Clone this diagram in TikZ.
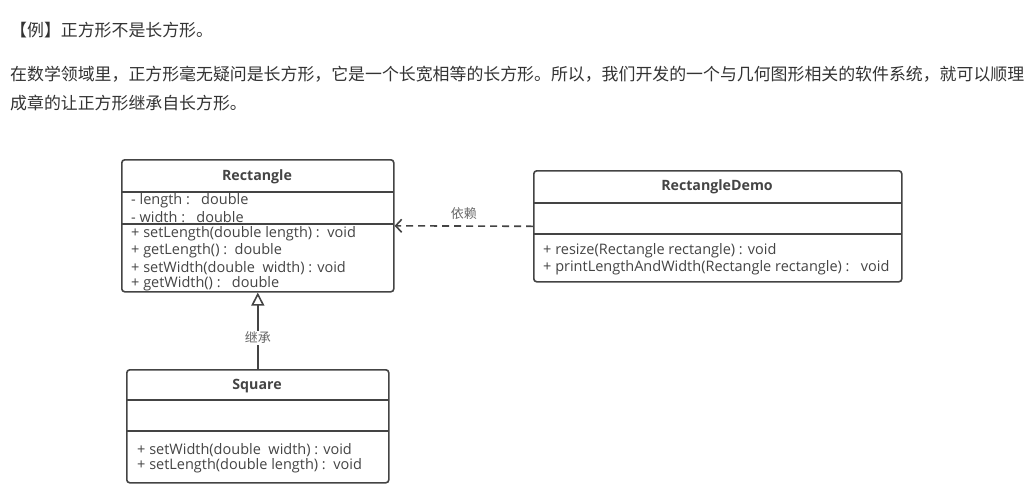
\documentclass[tikz,border=0pt]{standalone}
\usepackage{fontspec}
\setmainfont{Noto Sans CJK SC}
\newfontfamily\umlfont{Open Sans}
\usetikzlibrary{arrows.meta}
\definecolor{txt}{HTML}{333333}
\definecolor{uml}{HTML}{444444}
\definecolor{lbl}{HTML}{666666}
\tikzset{
  cls/.style={draw=uml, line width=1.6pt, rounded corners=3pt, anchor=north west, inner sep=0pt, fill=white},
  sep/.style={draw=uml, line width=1.6pt},
  ttl/.style={font=\umlfont\fontsize{14.2}{16}\selectfont\bfseries, text=uml, inner sep=0pt},
  mem/.style={font=\umlfont\fontsize{14.5}{16}\selectfont, text=uml, anchor=west, inner sep=0pt},
  para/.style={font=\fontsize{16.9}{20}\selectfont, text=txt, anchor=west, inner sep=0pt},
  lab/.style={font=\fontsize{13}{14}\selectfont, text=lbl, fill=white, inner sep=1pt},
}
\begin{document}
\begin{tikzpicture}[x=1pt,y=-1pt]
\useasboundingbox[fill=white] (0,0) rectangle (1024,496);
% heading text
\node[para] (h1) at (10,30) {【例】正方形不是长方形。};
\node[para] (p1) at (10,74) {在数学领域里，正方形毫无疑问是长方形，它是一个长宽相等的长方形。所以，我们开发的一个与几何图形相关的软件系统，就可以顺理};
\node[para] (p2) at (10,103) {成章的让正方形继承自长方形。};
% Rectangle class
\node[cls, minimum width=272pt, minimum height=132pt] (rect) at (121,159) {};
\draw[sep] (121,192) -- (393,192);
\draw[sep] (121,224) -- (393,224);
\node[ttl] (rectT) at (257,177) {Rectangle};
\node[mem] (ra1) at (131,201) {- length :\ \ \ double};
\node[mem] (ra2) at (131,217) {- width :\ \ \ double};
\node[mem] (rm1) at (131,234) {+ setLength(double length) :\ \ void};
\node[mem] (rm2) at (131,251) {+ getLength() :\ \ double};
\node[mem] (rm3) at (131,268) {+ setWidth(double\ \ width) : void};
\node[mem] (rm4) at (131,284) {+ getWidth() :\ \ \ double};
% RectangleDemo class
\node[cls, minimum width=368pt, minimum height=111pt] (demo) at (533,170) {};
\draw[sep] (533,203) -- (901,203);
\draw[sep] (533,234) -- (901,234);
\node[ttl] (demoT) at (717,187) {RectangleDemo};
\node[mem] (dm1) at (543,251) {+ resize(Rectangle rectangle) : void};
\node[mem] (dm2) at (543,268) {+ printLengthAndWidth(Rectangle rectangle) :\ \ \ void};
% Square class
\node[cls, minimum width=262pt, minimum height=113pt] (sq) at (126,369) {};
\draw[sep] (126,400) -- (388,400);
\draw[sep] (126,431) -- (388,431);
\node[ttl] (sqT) at (257,386) {Square};
\node[mem] (sm1) at (137,450) {+ setWidth(double\ \ width) : void};
\node[mem] (sm2) at (137,466) {+ setLength(double length) :\ \ void};
% connectors
\draw[draw=uml, line width=1.6pt, dash pattern=on 7pt off 5pt, -{Straight Barb[length=6pt,width=13pt,line width=1.6pt]}] (demo.west) -- (rect.east) node[midway, above=5pt, lab, fill=none] (depL) {依赖};
\draw[draw=uml, line width=1.6pt, -{Triangle[open, length=13pt, width=13pt, line width=1.6pt, fill=white]}] (sq.north) -- (rect.south) node[pos=0.41, lab] (inhL) {继承};
\end{tikzpicture}
\end{document}
